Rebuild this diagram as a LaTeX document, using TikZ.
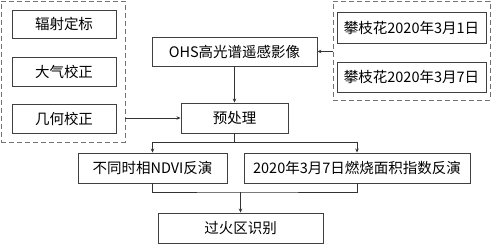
\documentclass[tikz,border=0pt]{standalone}
\usepackage{fontspec}
\setmainfont{Noto Sans CJK SC}
\usetikzlibrary{arrows.meta}
\begin{document}
\begin{tikzpicture}[x=1pt,y=-1pt,
  box/.style={draw=black!75, line width=0.9pt, inner sep=0pt, rectangle, font=\fontsize{14.5}{16}\selectfont},
  grp/.style={draw=black!55, line width=0.9pt, dash pattern=on 5pt off 3pt, rectangle, inner sep=0pt},
  arr/.style={draw=black!80, line width=0.8pt, -{Stealth[length=4pt,width=3.5pt]}},
  ln/.style={draw=black!80, line width=0.8pt}]
\useasboundingbox (0,0) rectangle (491,245);
% left group
\node[grp, minimum width=124pt, minimum height=141pt] (lgrp) at (63,71.5) {};
\node[box, minimum width=104pt, minimum height=28pt] (rad) at (64,24) {辐射定标};
\node[box, minimum width=104pt, minimum height=29pt] (atm) at (64,71.5) {大气校正};
\node[box, minimum width=104pt, minimum height=29pt] (geo) at (64,118.5) {几何校正};
% right group
\node[grp, minimum width=157pt, minimum height=99pt] (rgrp) at (411.5,50.5) {};
\node[box, minimum width=149pt, minimum height=31pt] (d1) at (411.5,27.5) {攀枝花2020年3月1日};
\node[box, minimum width=149pt, minimum height=30pt] (d2) at (411.5,77) {攀枝花2020年3月7日};
% center
\node[box, minimum width=165pt, minimum height=29pt] (ohs) at (234.5,51.5) {OHS高光谱遥感影像};
\node[box, minimum width=107pt, minimum height=30pt] (pre) at (234.5,118) {预处理};
\node[box, minimum width=149pt, minimum height=30pt] (ndvi) at (152.5,168) {不同时相NDVI反演};
\node[box, minimum width=226pt, minimum height=30pt] (bai) at (357,168) {2020年3月7日燃烧面积指数反演};
\node[box, minimum width=165pt, minimum height=30pt] (fire) at (240.5,228) {过火区识别};
% connectors
\draw[arr] (rgrp.west |- ohs.east) -- (ohs.east);
\draw[arr] (lgrp.east |- pre.west) -- (pre.west);
\draw[arr] (ohs.south) -- (pre.north);
\coordinate (j1) at (234.5,142);
\draw[ln] (pre.south) -- (j1);
\draw[arr] (j1) -| (ndvi.north);
\draw[arr] (j1) -| (bai.north);
\coordinate (j2) at (240.5,192);
\draw[ln] (ndvi.south) |- (j2) -| (bai.south);
\draw[arr] (j2) -- (fire.north);
\end{tikzpicture}
\end{document}
